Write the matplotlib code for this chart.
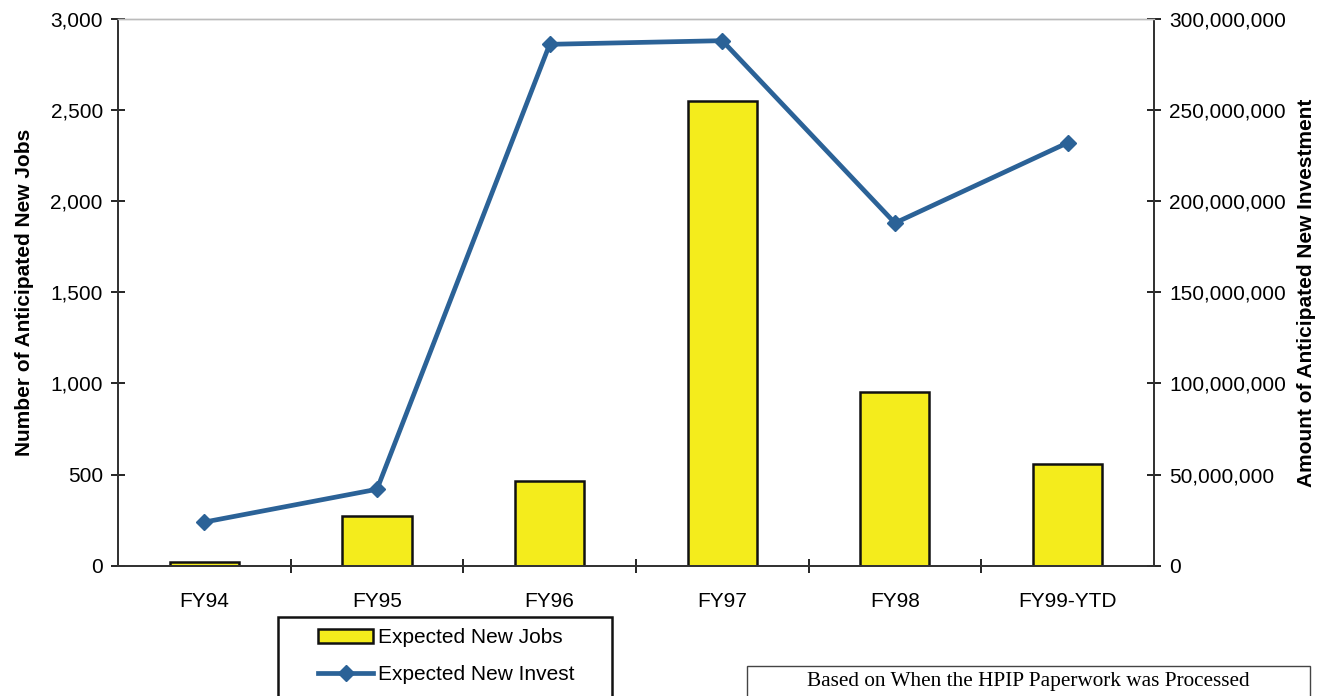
import matplotlib.pyplot as plt
from matplotlib.patches import Rectangle
from matplotlib.ticker import FuncFormatter, MultipleLocator

plt.switch_backend('Agg')
plt.rcParams['font.family'] = ['Liberation Sans', 'DejaVu Sans']

# fiscal years and reported figures
years = ['FY94', 'FY95', 'FY96', 'FY97', 'FY98', 'FY99-YTD']
new_jobs = [20, 275, 468, 2548, 952, 561]
new_invest = [24000000, 42000000, 286000000, 288000000, 188000000, 232000000]

BAR_YELLOW = '#f4ec1c'
LINE_BLUE = '#2b6297'
FS = 15

fig = plt.figure(figsize=(13.28, 6.96), dpi=100)
ax = fig.add_axes([0.0889, 0.187, 0.780, 0.786])
ax2 = ax.twinx()

x = list(range(len(years)))
bars = ax.bar(x, new_jobs, width=0.4, color=BAR_YELLOW, edgecolor='#111111',
              linewidth=1.8, label='Expected New Jobs', zorder=2)
line, = ax2.plot(x, new_invest, color=LINE_BLUE, linewidth=3.4, marker='D',
                 markersize=8, label='Expected New Invest', zorder=3)

ax.set_xlim(-0.5, len(years) - 0.5)
ax.set_ylim(0, 3000)
ax2.set_ylim(0, 300000000)
ax.yaxis.set_major_locator(MultipleLocator(500))
ax2.yaxis.set_major_locator(MultipleLocator(50000000))
comma = FuncFormatter(lambda v, p: f'{int(v):,}')
ax.yaxis.set_major_formatter(comma)
ax2.yaxis.set_major_formatter(comma)

# category ticks sit between the bars, labels under the bars
ax.set_xticks([i + 0.5 for i in x[:-1]])
ax.set_xticklabels([])
ax.set_xticks(x, minor=True)
ax.set_xticklabels(years, minor=True, fontsize=FS)
ax.tick_params(axis='x', which='minor', length=0, pad=19)
ax.tick_params(axis='x', which='major', direction='inout', length=10, width=1.2)
ax.tick_params(axis='y', direction='inout', length=10, width=1.2, labelsize=FS, pad=6)
ax2.tick_params(axis='y', direction='inout', length=10, width=1.2, labelsize=FS, pad=6)

for a in (ax, ax2):
    a.spines['top'].set_color('#bbbbbb')
    a.spines['top'].set_linewidth(1.0)
    for side in ('left', 'right', 'bottom'):
        a.spines[side].set_linewidth(1.3)
        a.spines[side].set_color('#333333')

ax.set_ylabel('Number of Anticipated New Jobs', fontsize=FS, fontweight='bold', labelpad=12)
ax2.set_ylabel('Amount of Anticipated New Investment', fontsize=FS, fontweight='bold',
               rotation=90, labelpad=8)

# legend box runs off the bottom edge of the page
fig.patches.append(Rectangle((0.2093, -0.02), 0.2515, 0.1335, transform=fig.transFigure,
                             facecolor='white', edgecolor='#111111', linewidth=1.8))
leg = fig.legend(handles=[bars, line], loc='upper left', bbox_to_anchor=(0.2395, 0.097),
                 fontsize=FS, frameon=False, borderpad=0, labelspacing=0.85,
                 handlelength=2.65, handletextpad=0.25, borderaxespad=0)

# processing note box in the lower right
fig.patches.append(Rectangle((0.5625, -0.01), 0.424, 0.053, transform=fig.transFigure,
                             facecolor='white', edgecolor='#444444', linewidth=1.0))
fig.text(0.7745, 0.021, 'Based on When the HPIP Paperwork was Processed',
         family='Liberation Serif', fontsize=15.3, ha='center', va='center')

fig.savefig('out.png', dpi=100)
